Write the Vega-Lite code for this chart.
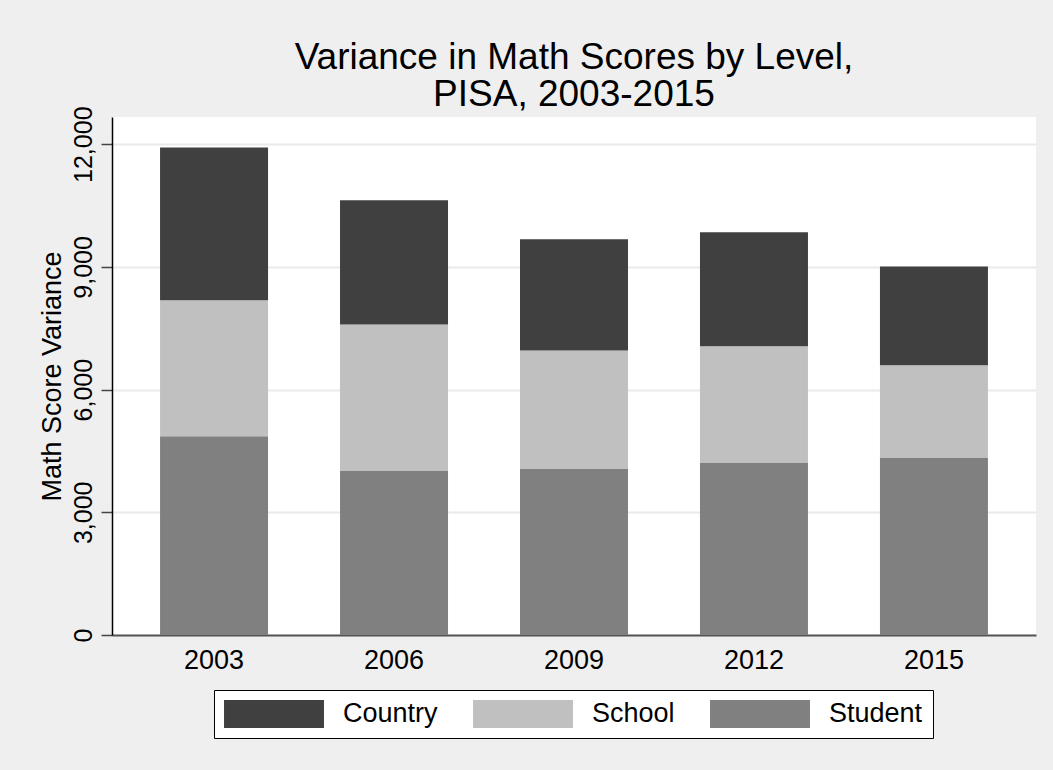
{
  "$schema": "https://vega.github.io/schema/vega-lite/v6.json",
  "width": 924,
  "height": 518,
  "autosize": {"type": "none"},
  "padding": {"left": 112, "top": 117, "right": 17, "bottom": 135},
  "background": "#efefef",
  "config": {
    "view": {"fill": "white", "stroke": null},
    "font": "Liberation Sans"
  },
  "title": {
    "text": ["Variance in Math Scores by Level,", "PISA, 2003-2015"],
    "fontSize": 37,
    "fontWeight": "normal",
    "font": "Liberation Sans",
    "color": "black",
    "anchor": "middle",
    "lineHeight": 37,
    "offset": -8
  },
  "data": {
    "values": [
      {"year": "2003", "level": "Student", "variance": 4858},
      {"year": "2003", "level": "School", "variance": 3325},
      {"year": "2003", "level": "Country", "variance": 3734},
      {"year": "2006", "level": "Student", "variance": 4010},
      {"year": "2006", "level": "School", "variance": 3579},
      {"year": "2006", "level": "Country", "variance": 3039},
      {"year": "2009", "level": "Student", "variance": 4059},
      {"year": "2009", "level": "School", "variance": 2894},
      {"year": "2009", "level": "Country", "variance": 2722},
      {"year": "2012", "level": "Student", "variance": 4215},
      {"year": "2012", "level": "School", "variance": 2844},
      {"year": "2012", "level": "Country", "variance": 2787},
      {"year": "2015", "level": "Student", "variance": 4328},
      {"year": "2015", "level": "School", "variance": 2266},
      {"year": "2015", "level": "Country", "variance": 2413}
    ]
  },
  "mark": {"type": "bar"},
  "encoding": {
    "x": {
      "field": "year",
      "type": "ordinal",
      "scale": {"paddingInner": 0.4, "paddingOuter": 0.267},
      "axis": {
        "title": null,
        "labelAngle": 0,
        "labelFontSize": 27,
        "labelColor": "black",
        "labelPadding": 12,
        "ticks": false,
        "domainColor": "#555555",
        "domainWidth": 2,
        "grid": false
      }
    },
    "y": {
      "field": "variance",
      "type": "quantitative",
      "stack": "zero",
      "scale": {"domain": [0, 12665], "nice": false, "zero": true},
      "axis": {
        "title": "Math Score Variance",
        "titleFontSize": 27,
        "titleFontWeight": "normal",
        "titleColor": "black",
        "titlePadding": 5,
        "values": [0, 3000, 6000, 9000, 12000],
        "format": ",d",
        "labelAngle": 270,
        "labelAlign": "center",
        "labelBaseline": "alphabetic",
        "labelFontSize": 25,
        "labelColor": "black",
        "labelPadding": 10,
        "tickSize": 11,
        "tickColor": "#444444",
        "tickWidth": 1.5,
        "domainColor": "black",
        "domainWidth": 1.5,
        "grid": true,
        "gridColor": "#eaeaea",
        "gridWidth": 2
      }
    },
    "color": {
      "field": "level",
      "type": "nominal",
      "scale": {
        "domain": ["Country", "School", "Student"],
        "range": ["#404040", "#c0c0c0", "#808080"]
      },
      "legend": {
        "title": null,
        "orient": "none",
        "legendX": 102,
        "legendY": 573,
        "direction": "horizontal",
        "columns": 3,
        "symbolType": "M-3.57,-1H3.57V1H-3.57Z",
        "symbolSize": 784,
        "symbolOffset": 36,
        "symbolStrokeWidth": 0,
        "symbolOpacity": 1,
        "labelFontSize": 27,
        "labelColor": "black",
        "labelOffset": 55,
        "columnPadding": 35,
        "padding": 10,
        "strokeColor": "black",
        "fillColor": "white"
      }
    },
    "order": {"field": "level", "sort": "descending"}
  }
}
